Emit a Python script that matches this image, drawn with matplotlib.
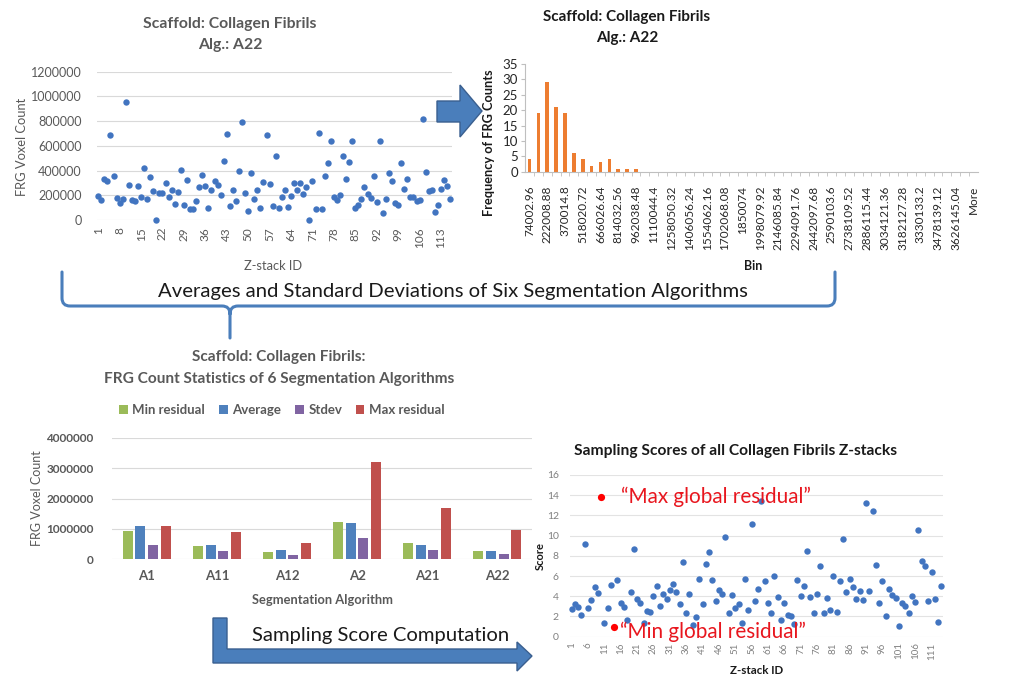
import matplotlib
matplotlib.use("Agg")
import matplotlib.pyplot as plt
import numpy as np
from matplotlib.patches import Polygon, PathPatch
from matplotlib.path import Path

plt.rcParams['font.family'] = ['Lato', 'DejaVu Sans']

# FRG voxel count per z-stack, algorithm A22
frg_counts = [194e3, 159e3, 328e3, 315e3, 686e3, 353e3, 178e3, 135e3, 170e3, 958e3,
              280e3, 164e3, 151e3, 272e3, 188e3, 420e3, 172e3, 347e3, 234e3, 0,
              218e3, 218e3, 296e3, 183e3, 245e3, 129e3, 226e3, 406e3, 118e3, 323e3,
              92e3, 92e3, 153e3, 264e3, 363e3, 272e3, 97e3, 242e3, 315e3, 280e3,
              205e3, 479e3, 697e3, 116e3, 240e3, 151e3, 396e3, 797e3, 221e3, 73e3,
              380e3, 170e3, 240e3, 100e3, 307e3, 686e3, 293e3, 113e3, 517e3, 100e3,
              188e3, 240e3, 108e3, 196e3, 301e3, 240e3, 301e3, 210e3, 264e3, 0,
              315e3, 89e3, 703e3, 89e3, 353e3, 463e3, 638e3, 188e3, 159e3, 205e3,
              514e3, 334e3, 466e3, 641e3, 100e3, 124e3, 172e3, 264e3, 207e3, 180e3,
              358e3, 145e3, 638e3, 59e3, 167e3, 377e3, 315e3, 140e3, 124e3, 460e3,
              248e3, 328e3, 183e3, 183e3, 153e3, 161e3, 818e3, 385e3, 231e3, 242e3,
              67e3, 118e3, 253e3, 326e3, 272e3, 172e3]

# histogram of the counts above
hist_counts = [4, 19, 29, 21, 19, 6, 4, 2, 3, 4, 1, 1, 1] + [0] * 38
bin_labels = ["74002.96", "222008.88", "370014.8", "518020.72", "666026.64", "814032.56",
              "962038.48", "1110044.4", "1258050.32", "1406056.24", "1554062.16",
              "1702068.08", "1850074", "1998079.92", "2146085.84", "2294091.76",
              "2442097.68", "2590103.6", "2738109.52", "2886115.44", "3034121.36",
              "3182127.28", "3330133.2", "3478139.12", "3626145.04", "More"]

# statistics of the six segmentation algorithms
algorithms = ["A1", "A11", "A12", "A2", "A21", "A22"]
min_residual = [942e3, 438e3, 230e3, 1238e3, 526e3, 274e3]
average = [1096e3, 482e3, 296e3, 1183e3, 482e3, 274e3]
stdev = [460e3, 274e3, 153e3, 712e3, 307e3, 175e3]
max_residual = [1096e3, 888e3, 537e3, 3200e3, 1677e3, 964e3]

# sampling score per z-stack
scores = [2.74, 3.23, 2.97, 2.15, 9.14, 2.84, 3.63, 4.92, 4.32, 13.8,
          1.39, 2.81, 5.15, 1.0, 5.61, 3.37, 2.97, 1.65, 4.39, 8.65,
          3.70, 3.30, 1.32, 2.54, 2.41, 4.06, 4.98, 3.07, 4.26, 3.73,
          4.62, 5.18, 4.46, 3.23, 7.43, 2.31, 4.19, 1.12, 1.95, 5.68,
          3.27, 7.16, 8.42, 5.61, 3.50, 4.62, 4.19, 9.87, 2.34, 4.16,
          2.87, 3.23, 1.39, 5.71, 2.67, 11.16, 3.50, 4.69, 13.43, 5.48,
          3.30, 2.31, 6.04, 3.89, 1.62, 3.37, 2.11, 2.05, 1.25, 5.61,
          3.99, 5.02, 8.48, 3.89, 2.31, 4.19, 7.00, 2.31, 3.86, 2.64,
          5.97, 2.41, 5.48, 9.64, 4.39, 5.71, 4.95, 3.73, 4.49, 3.63,
          13.27, 4.52, 12.48, 7.10, 3.37, 5.54, 2.01, 4.72, 4.16, 3.86,
          1.06, 3.30, 3.07, 2.38, 4.03, 3.47, 10.56, 7.52, 6.96, 3.56,
          6.44, 3.70, 1.45, 5.05]
max_global_idx = 9
min_global_idx = 13

BLUE = "#4174C0"
GRAY = "#595959"
DARK = "#1a1a1a"
GRID = "#D9D9D9"
RED = "#E8161E"
SHAPE = "#4A7EBB"

W, H = 1016, 677
fig = plt.figure(figsize=(W / 100, H / 100), dpi=100)


def box(l, t, r, b):
    return [l / W, 1 - b / H, (r - l) / W, (b - t) / H]


# --- scatter of FRG voxel counts ---
ax1 = fig.add_axes(box(96.7, 71.7, 451.7, 220))
x1 = np.arange(1, len(frg_counts) + 1)
ax1.plot(x1, frg_counts, "o", ms=4.6, color=BLUE, mec="none", clip_on=False, zorder=3)
ax1.set_xlim(0.5, len(frg_counts) + 0.5)
ax1.set_ylim(0, 1.2e6)
ax1.set_yticks(np.arange(0, 1.2e6 + 1, 2e5))
ax1.set_yticklabels([f"{int(v)}" for v in np.arange(0, 1.2e6 + 1, 2e5)])
ax1.set_xticks(x1[::7])
ax1.set_xticklabels([str(v) for v in x1[::7]], rotation=90)
ax1.tick_params(axis="x", length=0, pad=5, labelsize=8.5, colors=GRAY)
ax1.tick_params(axis="y", length=0, pad=11, labelsize=9, colors=GRAY)
ax1.yaxis.grid(True, color=GRID, lw=0.8)
ax1.set_axisbelow(True)
for s in ax1.spines.values():
    s.set_visible(False)

# --- histogram ---
ax2 = fig.add_axes(box(525, 64, 978, 171.7))
pos = np.arange(len(hist_counts))
ax2.bar(pos, hist_counts, width=0.4, color="#ED7D31")
ax2.set_xlim(-0.5, len(hist_counts) - 0.5)
ax2.set_ylim(0, 35)
ax2.set_yticks(range(0, 36, 5))
ax2.set_xticks(pos[::2])
ax2.set_xticklabels(bin_labels, rotation=90)
ax2.set_xticks(pos[:-1] + 0.5, minor=True)
ax2.tick_params(axis="x", which="major", length=0, pad=10, labelsize=8.5, colors="#262626")
ax2.tick_params(axis="x", which="minor", length=3, color="#BFBFBF")
ax2.tick_params(axis="y", length=3, color="#BFBFBF", labelsize=9.5, labelcolor="#262626", pad=2)
for side in ["top", "right"]:
    ax2.spines[side].set_visible(False)
for side in ["left", "bottom"]:
    ax2.spines[side].set_color("#BFBFBF")

# --- grouped bars of algorithm statistics ---
ax3 = fig.add_axes(box(111.7, 437.7, 532.3, 559.3))
xa = np.arange(len(algorithms))
series = [(min_residual, "#9BBB59", "Min residual"),
          (average, "#4F81BD", "Average"),
          (stdev, "#8064A2", "Stdev"),
          (max_residual, "#C0504D", "Max residual")]
pitch, bw = 0.179, 0.143
for i, (vals, col, name) in enumerate(series):
    ax3.bar(xa + (i - 1.5) * pitch, vals, width=bw, color=col, label=name)
ax3.set_xlim(-0.5, len(algorithms) - 0.5)
ax3.set_ylim(0, 4e6)
ax3.set_yticks(np.arange(0, 4e6 + 1, 1e6))
ax3.set_yticklabels([f"{int(v)}" for v in np.arange(0, 4e6 + 1, 1e6)])
ax3.set_xticks(xa)
ax3.set_xticklabels(algorithms)
ax3.tick_params(axis="x", length=0, pad=8, labelsize=9.5)
ax3.tick_params(axis="y", length=0, pad=13, labelsize=8.5)
for lab in ax3.get_xticklabels() + ax3.get_yticklabels():
    lab.set_color(GRAY)
    lab.set_fontweight("bold")
ax3.yaxis.grid(True, color=GRID, lw=0.8)
ax3.set_axisbelow(True)
for s in ax3.spines.values():
    s.set_visible(False)
ax3.legend(loc="center", bbox_to_anchor=(282 / W, 1 - 410 / H), bbox_transform=fig.transFigure,
           ncol=4, frameon=False, handlelength=0.65, handleheight=0.65, handletextpad=0.35,
           columnspacing=1.05, prop={"weight": "bold", "size": 9.5}, labelcolor=GRAY)

# --- sampling scores ---
ax4 = fig.add_axes(box(570, 475, 943, 636.7))
x4 = np.arange(1, len(scores) + 1)
sc = np.array(scores)
hl = np.zeros(len(scores), bool)
hl[[max_global_idx, min_global_idx]] = True
ax4.plot(x4[~hl], sc[~hl], "o", ms=4.6, color=BLUE, mec="none", clip_on=False, zorder=3)
ax4.plot(x4[hl], sc[hl], "o", ms=5.2, color="#FF0000", mec="none", clip_on=False, zorder=3)
ax4.set_xlim(0.5, len(scores) + 0.5)
ax4.set_ylim(0, 16)
ax4.set_yticks(range(0, 17, 2))
ax4.set_xticks(x4[::5])
ax4.set_xticklabels([str(v) for v in x4[::5]], rotation=90)
ax4.tick_params(axis="x", length=0, pad=4, labelsize=7, colors="#808080")
ax4.tick_params(axis="y", length=0, pad=8, labelsize=7.5, colors="#808080")
ax4.yaxis.grid(True, color="#E3E3E3", lw=0.8)
ax4.set_axisbelow(True)
for s in ax4.spines.values():
    s.set_visible(False)

# --- overlay: titles, labels, arrows ---
ov = fig.add_axes([0, 0, 1, 1])
ov.set_xlim(0, W)
ov.set_ylim(H, 0)
ov.axis("off")
ov.patch.set_alpha(0)


def txt(x, y, s, **kw):
    kw.setdefault("ha", "center")
    kw.setdefault("va", "center")
    ov.text(x, y, s, **kw)


txt(230, 24, "Scaffold: Collagen Fibrils", fontsize=11.3, weight="bold", color=GRAY)
txt(230, 45, "Alg.: A22", fontsize=11.3, weight="bold", color=GRAY)
txt(22, 147, "FRG Voxel Count", fontsize=9.3, color=GRAY, rotation=90)
txt(273, 266, "Z-stack ID", fontsize=9.3, color=GRAY)

txt(627, 17, "Scaffold: Collagen Fibrils", fontsize=11, weight="bold", color=DARK)
txt(627, 38, "Alg.: A22", fontsize=11, weight="bold", color=DARK)
txt(489, 143, "Frequency of FRG Counts", fontsize=9.2, weight="bold", color=DARK, rotation=90)
txt(753, 266, "Bin", fontsize=9, weight="bold", color=DARK)

txt(279, 357, "Scaffold: Collagen Fibrils:", fontsize=11.1, weight="bold", color=GRAY)
txt(279, 379, "FRG Count Statistics of 6 Segmentation Algorithms", fontsize=11.1, weight="bold",
    color=GRAY)
txt(37, 498, "FRG Voxel Count", fontsize=9, color=GRAY, rotation=90)
txt(323, 600, "Segmentation Algorithm", fontsize=9.3, weight="bold", color=GRAY)

txt(735, 451, "Sampling Scores of all Collagen Fibrils Z-stacks", fontsize=11.2, weight="bold",
    color=DARK)
txt(540, 556, "Score", fontsize=8, weight="bold", color=DARK, rotation=90)
txt(757, 671, "Z-stack ID", fontsize=8.3, weight="bold", color=DARK)
txt(621, 497, "\u201cMax global residual\u201d", fontsize=14.9, color=RED, ha="left")
txt(620, 632, "\u201cMin global residual\u201d", fontsize=14.9, color=RED, ha="left")

# block arrow to the histogram
ov.add_patch(Polygon([(437, 101), (460, 101), (460, 85), (482, 111), (460, 137),
                      (460, 122), (437, 122)], closed=True, fc=SHAPE, ec="#3A5F8F", lw=1))

# brace gathering the algorithms
verts = [(62, 272), (62, 298), (62, 306), (70, 306), (222, 306), (230, 306), (230, 314),
         (230, 338),
         (230, 314), (230, 306), (238, 306), (827, 306), (835, 306), (835, 298), (835, 272)]
codes = [Path.MOVETO, Path.LINETO, Path.CURVE3, Path.CURVE3, Path.LINETO, Path.CURVE3,
         Path.CURVE3, Path.LINETO,
         Path.MOVETO, Path.CURVE3, Path.CURVE3, Path.LINETO, Path.CURVE3, Path.CURVE3,
         Path.LINETO]
ov.add_patch(PathPatch(Path(verts, codes), fc="none", ec=SHAPE, lw=2.2, capstyle="round"))
txt(453, 292, "Averages and Standard Deviations of Six Segmentation Algorithms",
    fontsize=14.6, color=DARK)

# bent arrow to the scores
ov.add_patch(Polygon([(213, 618), (227, 618), (227, 649), (517, 649), (517, 642), (532, 656),
                      (517, 671), (517, 663), (213, 663)], closed=True, fc=SHAPE,
                     ec="#3A5F8F", lw=1))
txt(381, 635, "Sampling Score Computation", fontsize=14.6, color=DARK)

fig.savefig("out.png", dpi=100)
